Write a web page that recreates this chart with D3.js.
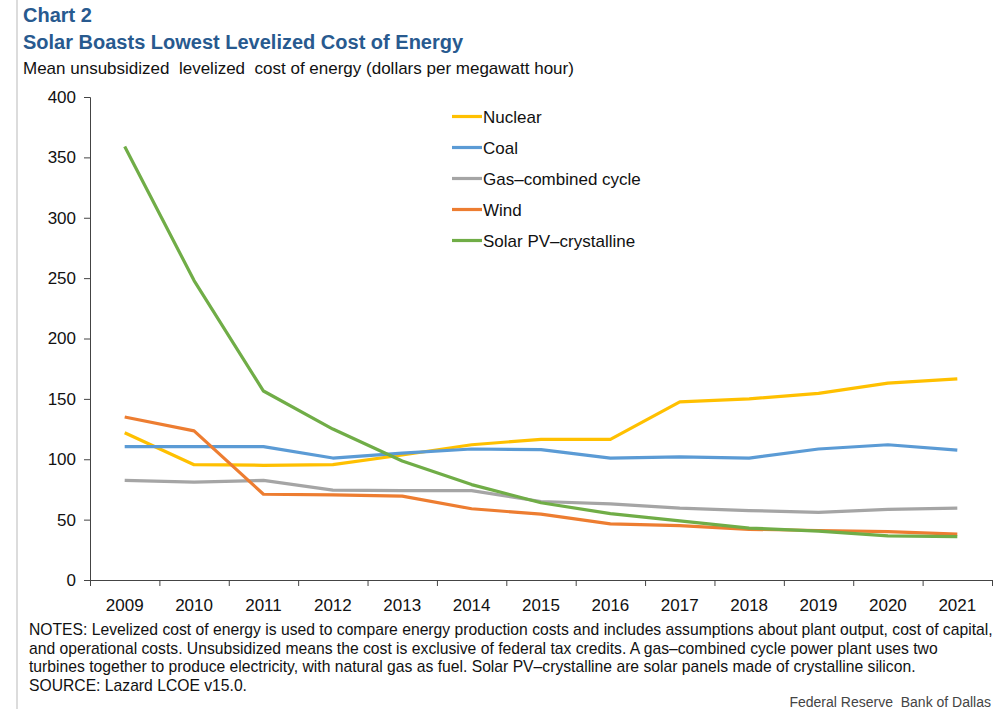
<!DOCTYPE html>
<html>
<head>
<meta charset="utf-8">
<script src="https://cdn.jsdelivr.net/npm/d3@7"></script>
<style>
  body { margin: 0; background: #fff; overflow: hidden; }
  svg { display: block; font-family: "Liberation Sans", Arial, sans-serif; }
</style>
</head>
<body>
<svg id="chart" width="994" height="709"></svg>
<script>
// Data
const years = ["2009", "2010", "2011", "2012", "2013", "2014", "2015", "2016", "2017", "2018", "2019", "2020", "2021"];
const nuclear = [122, 95.5, 95, 95.5, 103.5, 112, 116.5, 116.5, 147.5, 150, 154.5, 163, 166.5];
const coal = [110.5, 110.5, 110.5, 101, 105, 108.5, 108, 101, 102, 101, 108.5, 112, 107.5];
const gas = [82.5, 81, 82.5, 74.5, 74, 74, 65, 63, 59.5, 57.5, 56, 58.5, 59.5];
const wind = [135, 123.5, 71, 70.5, 69.5, 59, 54.5, 46.5, 45, 42, 41, 40, 38];
const solar = [359, 248, 156.5, 125, 98.5, 79, 64, 55, 49, 43, 40.5, 36.5, 36];
const yTicks = [0, 50, 100, 150, 200, 250, 300, 350, 400];

const seriesNames = ["Nuclear", "Coal", "Gas\u2013combined cycle", "Wind", "Solar PV\u2013crystalline"];
const seriesValues = [nuclear, coal, gas, wind, solar];
const seriesColors = ["#FFC000", "#5B9BD5", "#A5A5A5", "#ED7D31", "#70AD47"];

const svg = d3.select("#chart");

// left page rule
svg.append("line")
  .attr("x1", 17).attr("x2", 17).attr("y1", 0).attr("y2", 709)
  .attr("stroke", "#dcdcdc").attr("stroke-width", 2);

// Titles
svg.append("text").attr("x", 23).attr("y", 22)
  .attr("fill", "#285A8F").attr("font-weight", "bold").attr("font-size", 20)
  .text("Chart 2");
svg.append("text").attr("x", 23).attr("y", 49)
  .attr("fill", "#285A8F").attr("font-weight", "bold").attr("font-size", 20)
  .text("Solar Boasts Lowest Levelized Cost of Energy");
svg.append("text").attr("x", 23).attr("y", 74)
  .attr("fill", "#111").attr("font-size", 17)
  .attr("xml:space", "preserve")
  .text("Mean unsubsidized  levelized  cost of energy (dollars per megawatt hour)");

// Scales
const plotLeft = 90, plotRight = 992, plotTop = 97, plotBottom = 580;
const x = d3.scaleBand().domain(years).range([plotLeft, plotRight]);
const xEdge = d3.scaleLinear().domain([0, years.length]).range([plotLeft, plotRight]);
const y = d3.scaleLinear().domain([0, 400]).range([plotBottom, plotTop]);

// Y axis
const yAxis = svg.append("g")
  .attr("transform", `translate(${plotLeft},0)`)
  .call(d3.axisLeft(y).tickValues(yTicks).tickSize(6).tickPadding(8));
yAxis.select(".domain").attr("stroke", "#444");
yAxis.selectAll(".tick line").attr("stroke", "#444");
yAxis.selectAll("text").attr("font-size", 17).attr("fill", "#111")
  .attr("font-family", "Liberation Sans, Arial, sans-serif");

// X axis: ticks between categories, labels centered
const xAxis = svg.append("g")
  .attr("transform", `translate(0,${plotBottom})`)
  .call(d3.axisBottom(xEdge).tickValues(d3.range(years.length + 1)).tickSize(6).tickFormat(""));
xAxis.select(".domain").attr("stroke", "#444");
xAxis.selectAll(".tick line").attr("stroke", "#444");

svg.append("g").selectAll("text")
  .data(years)
  .join("text")
  .attr("x", d => x(d) + x.bandwidth() / 2)
  .attr("y", plotBottom + 31)
  .attr("text-anchor", "middle")
  .attr("font-size", 17).attr("fill", "#111")
  .text(d => d);

// Lines
const line = d3.line()
  .x((d, i) => x(years[i]) + x.bandwidth() / 2)
  .y(d => y(d));

svg.append("g").selectAll("path")
  .data(seriesValues)
  .join("path")
  .attr("d", d => line(d))
  .attr("fill", "none")
  .attr("stroke", (d, i) => seriesColors[i])
  .attr("stroke-width", 3.2)
  .attr("stroke-linejoin", "round");

// Legend
const legend = svg.append("g").attr("transform", "translate(452,116.5)");
const items = legend.selectAll("g")
  .data(seriesNames)
  .join("g")
  .attr("transform", (d, i) => `translate(0,${i * 31})`);
items.append("line")
  .attr("x1", 0).attr("x2", 30)
  .attr("stroke", (d, i) => seriesColors[i])
  .attr("stroke-width", 3.2);
items.append("text")
  .attr("x", 31).attr("y", 6)
  .attr("font-size", 17).attr("fill", "#111")
  .text(d => d);

// Notes
const notes = [
  "NOTES: Levelized cost of energy is used to compare energy production costs and includes assumptions about plant output, cost of capital,",
  "and operational costs. Unsubsidized means the cost is exclusive of federal tax credits. A gas\u2013combined cycle power plant uses two",
  "turbines together to produce electricity, with natural gas as fuel. Solar PV\u2013crystalline are solar panels made of crystalline silicon.",
  "SOURCE: Lazard LCOE v15.0."
];
svg.append("g").selectAll("text")
  .data(notes)
  .join("text")
  .attr("x", 29)
  .attr("y", (d, i) => 635 + i * 18.5)
  .attr("font-size", 15.7).attr("fill", "#111")
  .text(d => d);

svg.append("text")
  .attr("x", 991).attr("y", 707)
  .attr("text-anchor", "end")
  .attr("font-size", 14).attr("fill", "#444")
  .attr("xml:space", "preserve")
  .text("Federal Reserve  Bank of Dallas");
</script>
</body>
</html>
